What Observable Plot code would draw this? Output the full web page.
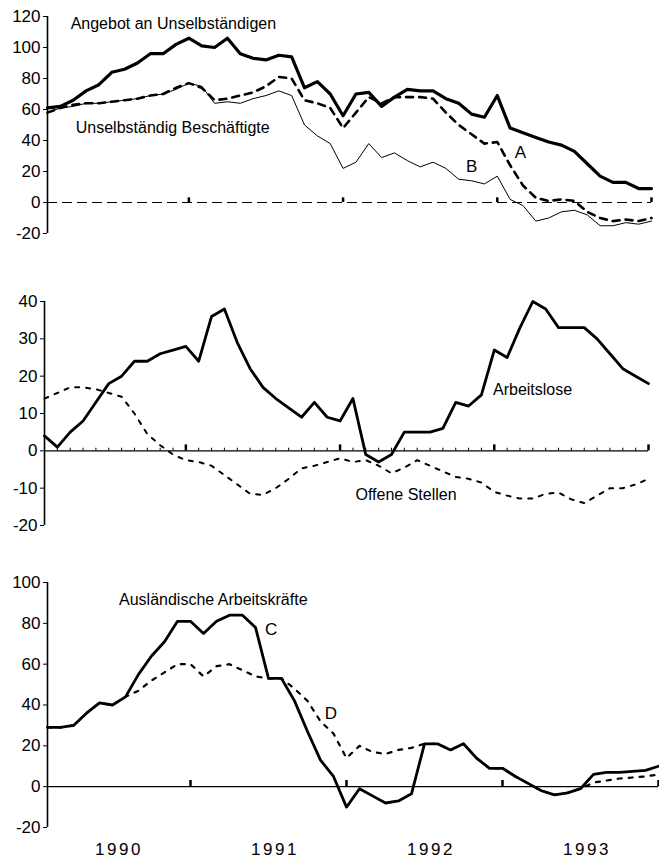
<!DOCTYPE html>
<html><head><meta charset="utf-8">
<script src="https://cdn.jsdelivr.net/npm/d3@7"></script>
<script src="https://cdn.jsdelivr.net/npm/@observablehq/plot@0.6"></script>
<style>
body{margin:0;background:#fff;width:659px;height:858px;overflow:hidden}
#chart svg{display:block}
</style></head><body><div id="chart"></div>
<script>
// month index 1 = Feb 1990 ... 48 = Jan 1994
const months = d3.range(1, 49);
const yearTicks = [12, 24, 36, 48];
const yearLabelPos = [6.5, 18.5, 30.5, 42.5];
const yearLabels = ["1990", "1991", "1992", "1993"];

// Panel 1
const angebot = [61,62,66,72,76,84,86,90,96,96, 102,106,101,100,106,96,93,92,95,94, 74,78,70,56,70,71,62,68,73,72, 72,67,64,57,55,69,48,45,42,39, 37,33,25,17,13,13,9,9];
const serieA = [58,61,63,64,64,65,66,67,69,70, 74,77,74,66,67,69,71,75,81,80, 66,64,61,48,58,68,64,68,68,68, 67,58,50,44,38,39,24,11,3,1, 2,1,-6,-10,-12,-11,-12,-10];
const serieB = [58,61,62,64,64,65,66,67,69,70, 73,77,75,64,65,64,67,69,72,69, 50,43,38,22,26,38,29,32,27,23, 26,22,15,14,12,17,2,-2,-12,-10, -6,-5,-8,-15,-15,-13,-14,-12];
const yTicks1 = [-20,0,20,40,60,80,100,120];
const titles1 = [
  {t: 2.8, v: 115, text: "Angebot an Unselbständigen"},
  {t: 3.2, v: 48, text: "Unselbständig Beschäftigte"}
];
const letters1 = [
  {t: 37.8, v: 32, text: "A"},
  {t: 34.0, v: 23, text: "B"}
];

// Panel 2
const arbeitslose = [4,1,5,8,13,18,20,24,24,26, 27,28,24,36,38,29,22,17,14,11.5, 9,13,9,8,14,-1,-3,-1,5,5, 5,6,13,12,15,27,25,33,40,38, 33,33,33,30,26,22,20,18];
const offeneStellen = [14,15.5,17,17,16.5,15.5,14.5,10,4.5,1.5, -1,-2.5,-3,-4,-6.5,-9,-11.5,-11.8,-10,-7.5, -4.7,-4,-3,-2,-3,-2.5,-4,-6,-4.5,-2.5, -4,-5.5,-7,-7.5,-8.5,-11,-12,-12.8,-12.8,-11.5, -11.2,-13,-14,-12,-10,-10,-9,-7.5];
const yTicks2 = [-20,-10,0,10,20,30,40];
const titles2 = [
  {t: 35.9, v: 16.4, text: "Arbeitslose"},
  {t: 25.2, v: -11.8, text: "Offene Stellen"}
];

// Panel 3
const auslC = [29,29,30,36,41,40,44,55,64,71, 81,81,75,81,84,84,78,53,53,42, 27,13,5,-10,-1,-4.5,-8,-7,-3.5,21, 21,18,21,14,9,9,5,1.5,-2,-4, -3,-1,6,7,7,7.5,8,10];
const auslD = [29,29,30,36,41,40,44,47,52,56, 60,60,54,59,60,57,54,53,53,48, 42,32,26,14,20,17,16,18,19,21, 21,18,21,14,9,9,5,1.5,-2,-4, -3,-1,2,3,4,4.5,5,6];
const yTicks3 = [-20,0,20,40,60,80,100];
const titles3 = [
  {t: 6.5, v: 91.5, text: "Ausländische Arbeitskräfte"}
];
const letters3 = [
  {t: 18.2, v: 77, text: "C"},
  {t: 22.8, v: 36, text: "D"}
];

const rows = arr => months.map((t, i) => ({t, v: arr[i]}));
const font = "'Liberation Sans', Arial, Helvetica, sans-serif";
const style = {fontFamily: font, fontSize: "17px", background: "#fff", color: "#000", overflow: "visible"};
const titleMark = labels => Plot.text(labels, {x: "t", y: "v", text: "text", fontSize: 16, textAnchor: "start", fill: "#000"});
const letterMark = labels => Plot.text(labels, {x: "t", y: "v", text: "text", fontSize: 17, textAnchor: "middle", fill: "#000"});
const axisLine = ticks => Plot.ruleX([1], {y1: ticks[0], y2: ticks[ticks.length - 1], stroke: "#000", strokeWidth: 1.6});

const p1 = Plot.plot({
  width: 659, height: 265, marginTop: 16, marginBottom: 32, marginLeft: 47, marginRight: 8,
  style,
  x: {domain: [1, 48], axis: null},
  y: {domain: [-20, 120], ticks: yTicks1, tickSize: 4, tickPadding: 3, tickFormat: d => String(d), label: null},
  marks: [
    axisLine(yTicks1),
    Plot.ruleY([0], {stroke: "#000", strokeWidth: 1.2, strokeDasharray: "10,5"}),
    Plot.ruleX(yearTicks, {y1: 0, y2: 3, stroke: "#000", strokeWidth: 2.5}),
    Plot.line(rows(serieB), {x: "t", y: "v", stroke: "#000", strokeWidth: 1}),
    Plot.line(rows(serieA), {x: "t", y: "v", stroke: "#000", strokeWidth: 2.6, strokeDasharray: "7,6"}),
    Plot.line(rows(angebot), {x: "t", y: "v", stroke: "#000", strokeWidth: 3.2}),
    titleMark(titles1),
    letterMark(letters1)
  ]
});

const p2 = Plot.plot({
  width: 659, height: 280, marginTop: 36, marginBottom: 20, marginLeft: 44, marginRight: 11,
  style,
  x: {domain: [1, 48], axis: null},
  y: {domain: [-20, 40], ticks: yTicks2, tickSize: 4, tickPadding: 3, tickFormat: d => String(d), label: null},
  marks: [
    axisLine(yTicks2),
    Plot.ruleY([0], {stroke: "#000", strokeWidth: 1.2}),
    Plot.ruleX(months, {y1: 0, y2: 0.7, stroke: "#000", strokeWidth: 1}),
    Plot.ruleX(yearTicks, {y1: 0, y2: 1.6, stroke: "#000", strokeWidth: 2.5}),
    Plot.line(rows(offeneStellen), {x: "t", y: "v", stroke: "#000", strokeWidth: 2, strokeDasharray: "4,7"}),
    Plot.line(rows(arbeitslose), {x: "t", y: "v", stroke: "#000", strokeWidth: 2.8}),
    titleMark(titles2)
  ]
});

const p3 = Plot.plot({
  width: 659, height: 313, marginTop: 37, marginBottom: 31, marginLeft: 47, marginRight: 1,
  style,
  x: {domain: [1, 48], ticks: yearLabelPos, tickFormat: (d, i) => yearLabels[i], tickSize: 0, tickPadding: 15, label: null},
  y: {domain: [-20, 100], ticks: yTicks3, tickSize: 4, tickPadding: 3, tickFormat: d => String(d), label: null},
  marks: [
    axisLine(yTicks3),
    Plot.ruleY([0], {stroke: "#000", strokeWidth: 1.2}),
    Plot.ruleX(yearTicks, {y1: 0, y2: 3, stroke: "#000", strokeWidth: 2.5}),
    Plot.line(rows(auslD), {x: "t", y: "v", stroke: "#000", strokeWidth: 2.2, strokeDasharray: "4,7"}),
    Plot.line(rows(auslC), {x: "t", y: "v", stroke: "#000", strokeWidth: 2.8}),
    titleMark(titles3),
    letterMark(letters3)
  ]
});

const chart = document.getElementById("chart");
chart.append(p1, p2, p3);
d3.select(p3).selectAll("[aria-label='x-axis tick label'] text").attr("letter-spacing", "2.5px");
</script></body></html>
